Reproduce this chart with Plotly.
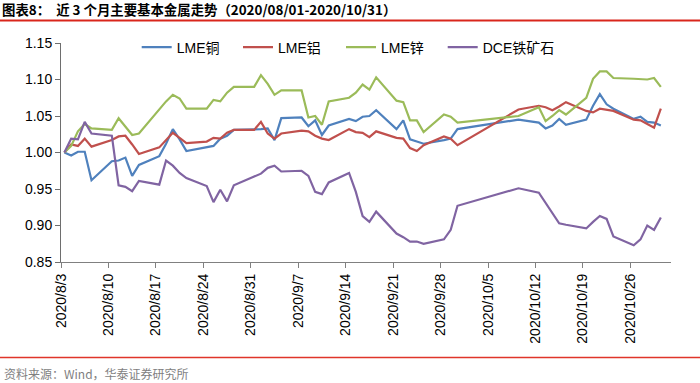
import pandas as pd
import plotly.graph_objects as go

# ---- data (normalised price, 2020/08/03 = 1) ----
dates = [
    "2020-08-03", "2020-08-04", "2020-08-05", "2020-08-06", "2020-08-07",
    "2020-08-10", "2020-08-11", "2020-08-12", "2020-08-13", "2020-08-14",
    "2020-08-17", "2020-08-18", "2020-08-19", "2020-08-20", "2020-08-21",
    "2020-08-24", "2020-08-25", "2020-08-26", "2020-08-27", "2020-08-28",
    "2020-08-31", "2020-09-01", "2020-09-02", "2020-09-03", "2020-09-04",
    "2020-09-07", "2020-09-08", "2020-09-09", "2020-09-10", "2020-09-11",
    "2020-09-14", "2020-09-15", "2020-09-16", "2020-09-17", "2020-09-18",
    "2020-09-21", "2020-09-22", "2020-09-23", "2020-09-24", "2020-09-25",
    "2020-09-28", "2020-09-29", "2020-09-30",
    "2020-10-09",
    "2020-10-12", "2020-10-13", "2020-10-14", "2020-10-15", "2020-10-16",
    "2020-10-19", "2020-10-20", "2020-10-21", "2020-10-22", "2020-10-23",
    "2020-10-26", "2020-10-27", "2020-10-28", "2020-10-29", "2020-10-30",
]

lme_copper = [
    1.000, 0.996, 1.001, 1.001, 0.962,
    0.988, 0.989, 0.993, 0.968, 0.983,
    0.995, 1.012, 1.032, 1.018, 1.002,
    1.007, 1.009, 1.019, 1.023, 1.031,
    1.031, 1.032, 1.033, 1.017, 1.047,
    1.048, 1.036, 1.044, 1.024, 1.037,
    1.046, 1.043, 1.049, 1.050, 1.058,
    1.032, 1.044, 1.018, 1.015, 1.012,
    1.017, 1.019, 1.032,
    1.045,
    1.041, 1.033, 1.037, 1.046, 1.038,
    1.045, 1.064, 1.080, 1.066, 1.060,
    1.046, 1.049, 1.042, 1.041, 1.037,
]

lme_aluminium = [
    1.000, 1.011, 1.009, 1.019, 1.008,
    1.017, 1.022, 1.023, 1.011, 0.998,
    1.007, 1.017, 1.027, 1.020, 1.013,
    1.015, 1.020, 1.019, 1.027, 1.031,
    1.031, 1.042, 1.026, 1.019, 1.026,
    1.030, 1.029, 1.023, 1.019, 1.017,
    1.032, 1.028, 1.027, 1.021, 1.029,
    1.020, 1.019, 1.006, 1.002, 1.010,
    1.022, 1.019, 1.010,
    1.059,
    1.064, 1.062, 1.058, 1.063, 1.069,
    1.057, 1.055, 1.060, 1.059, 1.057,
    1.045, 1.044, 1.039, 1.034, 1.060,
]

lme_zinc = [
    1.000, 1.009, 1.029, 1.039, 1.033,
    1.031, 1.047, 1.035, 1.024, 1.026,
    1.058, 1.070, 1.079, 1.074, 1.060,
    1.060, 1.072, 1.070, 1.082, 1.090,
    1.090, 1.106, 1.094, 1.079, 1.085,
    1.085, 1.048, 1.050, 1.038, 1.070,
    1.075, 1.082, 1.093, 1.086, 1.103,
    1.071, 1.069, 1.044, 1.044, 1.028,
    1.052, 1.049, 1.041,
    1.050,
    1.062, 1.043, 1.050, 1.058, 1.052,
    1.075, 1.101, 1.111, 1.111, 1.102,
    1.101, 1.101, 1.100, 1.102, 1.090,
]

dce_iron_ore = [
    1.000, 1.019, 1.018, 1.042, 1.026,
    1.023, 0.955, 0.953, 0.947, 0.961,
    0.956, 0.989, 0.982, 0.972, 0.965,
    0.954, 0.932, 0.949, 0.933, 0.955,
    0.967, 0.971, 0.979, 0.982, 0.974,
    0.975, 0.968, 0.946, 0.943, 0.959,
    0.972, 0.946, 0.913, 0.905, 0.919,
    0.889, 0.884, 0.878, 0.878, 0.875,
    0.881, 0.894, 0.927,
    0.951,
    0.945, 0.931, 0.916, 0.903, 0.901,
    0.896, 0.905, 0.913, 0.909, 0.885,
    0.873, 0.881, 0.900, 0.894, 0.911,
]

series_names = ["LME铜", "LME铝", "LME锌", "DCE铁矿石"]

tick_dates = ["2020-08-03", "2020-08-10", "2020-08-17", "2020-08-24", "2020-08-31",
              "2020-09-07", "2020-09-14", "2020-09-21", "2020-09-28", "2020-10-05",
              "2020-10-12", "2020-10-19", "2020-10-26"]
tick_labels = ["2020/8/3", "2020/8/10", "2020/8/17", "2020/8/24", "2020/8/31",
               "2020/9/7", "2020/9/14", "2020/9/21", "2020/9/28", "2020/10/5",
               "2020/10/12", "2020/10/19", "2020/10/26"]

y_ticks = [0.85, 0.90, 0.95, 1.00, 1.05, 1.10, 1.15]

title_text = "图表8：  近 3 个月主要基本金属走势（2020/08/01-2020/10/31）"
source_text = "资料来源：Wind，华泰证券研究所"

# ---- styling ----
colors = ["#4F81BD", "#C0504D", "#9BBB59", "#8064A2"]
FONT = "Arial, 'Liberation Sans', 'Noto Sans CJK SC', sans-serif"
W, H = 700, 383
L, R, T, B = 61, 29, 43, 121.4
pw, ph = W - L - R, H - T - B


def px_x(px):
    return (px - L) / pw


def px_y(py):
    return (H - B - py) / ph


# legend item left edges (px) - one legend box per series
legend_left_px = [136.7, 238, 341, 442.7]
legend_ids = ["legend", "legend2", "legend3", "legend4"]

# points are centred in their day slot (Excel date axis look)
x_vals = pd.to_datetime(pd.Series(dates)) + pd.Timedelta(hours=12)

fig = go.Figure()
for name, vals, col, lid in zip(series_names,
                                [lme_copper, lme_aluminium, lme_zinc, dce_iron_ore],
                                colors, legend_ids):
    fig.add_trace(go.Scatter(x=x_vals, y=vals, name=name, mode="lines",
                             line=dict(color=col, width=2.2), legend=lid))

legend_layout = {}
for lid, lx in zip(legend_ids, legend_left_px):
    legend_layout[lid] = dict(orientation="h", x=px_x(lx), y=px_y(47.5),
                              xanchor="left", yanchor="middle",
                              font=dict(size=14, color="#000000"),
                              bgcolor="rgba(0,0,0,0)", itemwidth=30)

fig.update_layout(
    width=W, height=H,
    margin=dict(l=L, r=R, t=T, b=B),
    paper_bgcolor="white", plot_bgcolor="white",
    font=dict(family=FONT, size=14, color="#000000"),
    showlegend=True,
    title=dict(text="<b>" + title_text + "</b>", xref="container", yref="container",
               x=2 / W, y=1 - 10 / H, xanchor="left", yanchor="middle",
               font=dict(family="'Noto Sans CJK SC', Arial, sans-serif", size=13.4, color="#000000")),
    xaxis=dict(type="date", range=["2020-08-03", "2020-11-01"],
               tickvals=tick_dates, ticktext=tick_labels, tickangle=-90,
               showgrid=False, zeroline=False, showline=True, linecolor="#808080", linewidth=1,
               ticks="outside", ticklen=5, tickcolor="#808080",
               tickfont=dict(size=14, color="#000000")),
    yaxis=dict(range=[0.85, 1.15], tickvals=y_ticks, tickformat=".2f",
               showgrid=False, zeroline=False, showline=True, linecolor="#6e6e6e", linewidth=1,
               ticks="outside", ticklen=5, tickcolor="#6e6e6e",
               tickfont=dict(size=14, color="#000000")),
    shapes=[
        dict(type="line", xref="paper", yref="paper", x0=px_x(0), x1=px_x(W),
             y0=px_y(20.5), y1=px_y(20.5), line=dict(color="#D9261C", width=2)),
        dict(type="line", xref="paper", yref="paper", x0=px_x(0), x1=px_x(W),
             y0=px_y(357), y1=px_y(357), line=dict(color="#E0352A", width=1.5)),
    ],
    annotations=[
        dict(text=source_text, xref="paper", yref="paper", x=px_x(2), y=px_y(373),
             xanchor="left", yanchor="middle", showarrow=False,
             font=dict(family="'Noto Sans CJK SC', Arial, sans-serif", size=12, color="#7F7F7F")),
    ],
    **legend_layout,
)

fig.write_html("out.html", config={"displayModeBar": False},
               post_script="document.body.style.margin='0';document.body.style.overflow='hidden';")
